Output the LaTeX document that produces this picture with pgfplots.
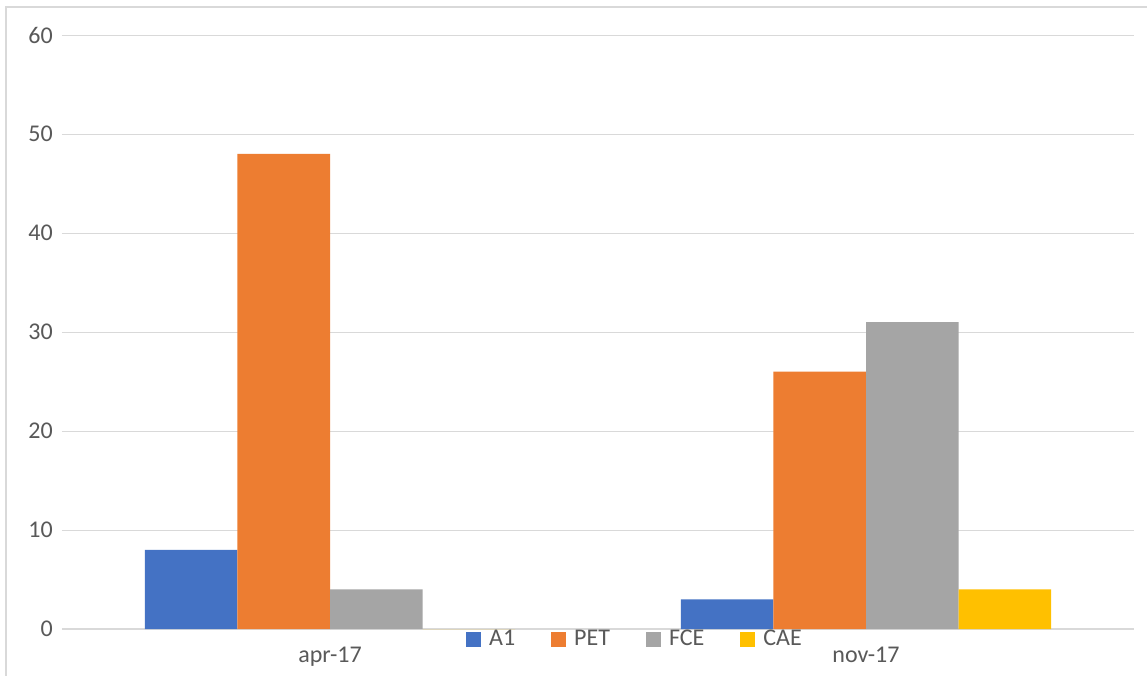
\documentclass[border=0pt]{standalone}
\usepackage{fontspec}
\setmainfont{Carlito}
\usepackage{pgfplots}
\pgfplotsset{compat=1.18}
\definecolor{cA}{HTML}{4472C4}
\definecolor{cB}{HTML}{ED7D31}
\definecolor{cC}{HTML}{A5A5A5}
\definecolor{cD}{HTML}{FFC000}
\definecolor{gridc}{HTML}{D9D9D9}
\definecolor{txt}{HTML}{595959}
\begin{document}
\fontsize{24}{28}\selectfont
\begin{tikzpicture}[x=1pt,y=1pt]
\useasboundingbox (0,0) rectangle (1147,675);
\clip (0,0) rectangle (1147,675);
\fill[white] (0,0) rectangle (1147,675);
\draw[gridc, line width=1.5pt] (6,-20) -- (6,668) -- (1170,668);
\begin{axis}[
  at={(62pt,46pt)}, anchor=south west,
  scale only axis, width=1072pt, height=594pt,
  xmin=-0.5, xmax=1.5, ymin=0, ymax=60,
  ybar=0pt, bar width=92.6pt,
  xtick={0,1}, xticklabels={apr-17,nov-17},
  ytick={0,10,...,60},
  major tick length=0pt,
  axis line style={draw=none},
  ymajorgrids, grid style={gridc, line width=1pt},
  ticklabel style={font=\fontsize{24}{28}\selectfont, text=txt},
  /pgf/number format/assume math mode=true,
  yticklabel style={xshift=-1pt},
  xticklabel style={yshift=-10pt},
  legend columns=4,
  legend style={draw=none, fill=none, at={(0.5345,-0.0185)}, anchor=center,
    font=\fontsize{24}{28}\selectfont, text=txt,
    /tikz/every even column/.append style={column sep=34pt}},
  legend image code/.code={\draw[#1, draw=none] (0pt,-7.5pt) rectangle (15pt,7.5pt); \path (21pt,0pt);},
  clip=false,
]
\draw[gridc, line width=2pt] (axis cs:-0.5,0) -- (axis cs:1.5,0);
\addplot[fill=cA, draw=none] coordinates {(0,8) (1,3)};
\addplot[fill=cB, draw=none] coordinates {(0,48) (1,26)};
\addplot[fill=cC, draw=none] coordinates {(0,4) (1,31)};
\addplot[fill=cD, draw=none] coordinates {(0,0) (1,4)};
\legend{A1,PET,FCE,CAE}
\end{axis}
\end{tikzpicture}
\end{document}
